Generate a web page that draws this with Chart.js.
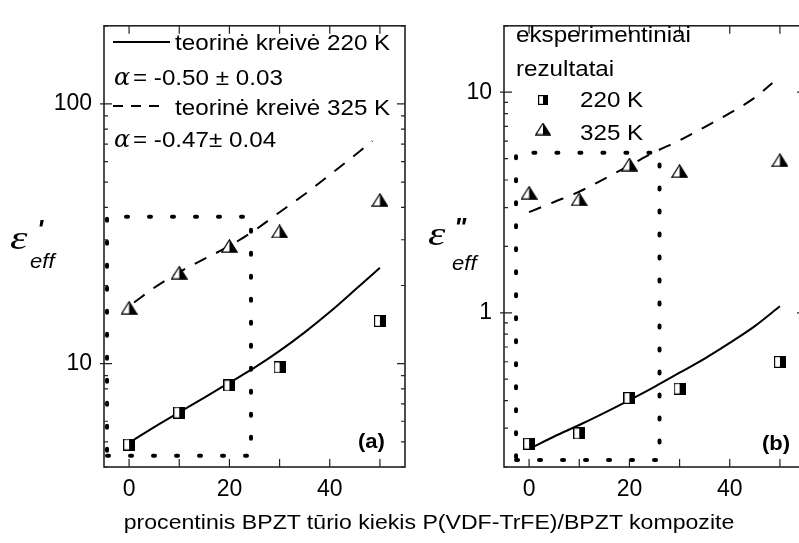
<!DOCTYPE html>
<html>
<head>
<meta charset="utf-8">
<script src="https://cdn.jsdelivr.net/npm/chart.js@4"></script>
<style>
  html, body { margin: 0; padding: 0; background: #fff; }
  #wrap { position: relative; width: 799px; height: 543px; overflow: hidden; }
  canvas { position: absolute; top: 0; }
  #xt { position: absolute; left: 0; width: 858px; top: 511px; text-align: center;
        font: 21px "Liberation Sans", Arial, sans-serif; line-height: 21px; color: #000;
        transform: scaleX(1.1); transform-origin: 429px 0; white-space: nowrap; }
</style>
</head>
<body>
<div id="wrap">
  <canvas id="chartA" width="420" height="543" style="left:0"></canvas>
  <canvas id="chartB" width="420" height="543" style="left:400px"></canvas>
  <div id="xt">procentinis BPZT tūrio kiekis P(VDF-TrFE)/BPZT kompozite</div>
</div>
<script>
// measured points (x = BPZT %)
const xExp = [0, 10, 20, 30, 50];
const a220 = [4.88, 6.48, 8.24, 9.68, 14.6];
const a325 = [16.4, 22.4, 28.4, 32.3, 42.7];
const b220 = [0.255, 0.284, 0.411, 0.453, 0.599];
const b325 = [3.50, 3.27, 4.70, 4.39, 4.92];

// theoretical curves
const xFitA220 = [1, 5, 10, 15, 20, 25, 30, 35, 40, 45, 50];
const fitA220 = [5.1, 5.7, 6.5, 7.4, 8.45, 9.65, 11.2, 13.2, 15.8, 19.2, 23.4];
const xFitA325 = [1, 5, 10, 15, 20, 25, 30, 35, 40, 45, 48.5];
const fitA325 = [17.2, 19.6, 22.5, 25.3, 28.4, 32.6, 38.3, 44.9, 53.3, 63.5, 72];
const xFitB220 = [1, 5, 10, 15, 20, 25, 30, 35, 40, 45, 50];
const fitB220 = [0.248, 0.275, 0.31, 0.352, 0.402, 0.462, 0.535, 0.62, 0.73, 0.87, 1.07];
const xFitB325 = [0, 5, 10, 15, 20, 25, 30, 35, 40, 45, 48.5];
const fitB325 = [2.86, 3.18, 3.54, 4.05, 4.65, 5.35, 6.05, 6.95, 8.03, 9.45, 11.0];

// dotted boxes
const boxAx = [-4.4, 24.3, 24.3, -4.4, -4.4];
const boxAy = [4.42, 4.42, 36.8, 36.8, 4.42];
const boxBx = [-2.6, 26, 26, -2.6, -2.6];
const boxBy = [0.215, 0.215, 5.32, 5.32, 0.215];

// axes
const xTicks = [0, 10, 20, 30, 40, 50];
const xLabels = [0, 20, 40];
const yTicksA = [4, 5, 6, 7, 8, 9, 10, 20, 30, 40, 50, 60, 70, 80, 90, 100, 200];
const yLabelsA = [10, 100];
const yTicksB = [0.2, 0.3, 0.4, 0.5, 0.6, 0.7, 0.8, 0.9, 1, 2, 3, 4, 5, 6, 7, 8, 9, 10, 20];
const yLabelsB = [1, 10];

const FONT = '"Liberation Sans", Arial, sans-serif';

function pts(xs, ys) { return xs.map((x, i) => ({ x: x, y: ys[i] })); }
function isDecade(v) { const l = Math.log10(v); return Math.abs(l - Math.round(l)) < 1e-9; }

function halfSquare(s) {
    const c = document.createElement('canvas');
    c.width = s; c.height = s;
    const g = c.getContext('2d');
    g.fillStyle = '#fff'; g.fillRect(0, 0, s, s);
    g.fillStyle = '#000'; g.fillRect(s / 2, 0, s / 2, s);
    g.strokeStyle = '#000'; g.lineWidth = 1.2;
    g.strokeRect(0.6, 0.6, s - 1.2, s - 1.2);
    return c;
}

function halfTriangle(w, h) {
    const c = document.createElement('canvas');
    c.width = w; c.height = h;
    const g = c.getContext('2d');
    g.beginPath(); g.moveTo(w / 2, 0.8); g.lineTo(w - 0.8, h - 0.8); g.lineTo(0.8, h - 0.8); g.closePath();
    g.fillStyle = '#fff'; g.fill();
    g.beginPath(); g.moveTo(w / 2, 0.8); g.lineTo(w - 0.8, h - 0.8); g.lineTo(w / 2, h - 0.8); g.closePath();
    g.fillStyle = '#000'; g.fill();
    g.beginPath(); g.moveTo(w / 2, 0.8); g.lineTo(w - 0.8, h - 0.8); g.lineTo(0.8, h - 0.8); g.closePath();
    g.strokeStyle = '#000'; g.lineWidth = 1.2; g.stroke();
    return c;
}

const sqBig = halfSquare(12), triBig = halfTriangle(17, 14);
const sqSmall = halfSquare(10), triSmall = halfTriangle(16, 13);

function txt(ctx, s, x, y, font, sx) {
    ctx.save();
    ctx.font = font; ctx.fillStyle = '#000'; ctx.textBaseline = 'alphabetic'; ctx.textAlign = 'left';
    ctx.translate(x, y); ctx.scale(sx || 1.1, 1);
    ctx.fillText(s, 0, 0);
    ctx.restore();
}

// frame with inward ticks on all four sides
const framePlugin = {
    id: 'frame',
    afterDraw(chart) {
        const { ctx, chartArea: a, scales: { x, y } } = chart;
        ctx.save();
        ctx.strokeStyle = '#222';
        ctx.lineWidth = 1.6;
        ctx.strokeRect(a.left, a.top, a.right - a.left, a.bottom - a.top);
        ctx.lineWidth = 1.2;
        ctx.beginPath();
        x.ticks.forEach(t => {
            const px = x.getPixelForValue(t.value);
            ctx.moveTo(px, a.bottom); ctx.lineTo(px, a.bottom - 8);
            ctx.moveTo(px, a.top); ctx.lineTo(px, a.top + 8);
        });
        y.ticks.forEach(t => {
            const py = y.getPixelForValue(t.value);
            const major = isDecade(t.value);
            const len = major ? 8 : 4;
            ctx.moveTo(a.left - (major ? 4 : 0), py); ctx.lineTo(a.left + len, py);
            ctx.moveTo(a.right, py); ctx.lineTo(a.right - len, py);
        });
        ctx.stroke();
        ctx.restore();
    }
};

function lineSet(data, dash) {
    return { data: data, showLine: true, borderColor: '#000', borderWidth: 2, borderDash: dash || [],
             pointRadius: 0, cubicInterpolationMode: 'monotone', fill: false };
}

function boxSet(data) {
    return { data: data, showLine: true, borderColor: '#000', borderWidth: 4, borderDash: [2, 21],
             borderCapStyle: 'round', pointRadius: 0, tension: 0, fill: false };
}

function makeChart(id, yMin, yMax, yTicks, yLabels, datasets, deco) {
    return new Chart(document.getElementById(id), {
        type: 'scatter',
        data: { datasets: datasets },
        options: {
            responsive: false,
            animation: false,
            events: [],
            layout: { padding: { left: 0, top: 13, right: 15, bottom: 0 } },
            plugins: { legend: { display: false }, tooltip: { enabled: false } },
            scales: {
                x: {
                    type: 'linear', min: -5, max: 55,
                    afterBuildTicks: s => { s.ticks = xTicks.map(v => ({ value: v })); },
                    afterFit: s => { s.height = 76; },
                    grid: { display: false, drawTicks: false }, border: { display: false },
                    ticks: { autoSkip: false, maxRotation: 0, padding: 9, color: '#000',
                             font: { size: 23, family: FONT },
                             callback: v => xLabels.includes(v) ? String(v) : '' }
                },
                y: {
                    type: 'logarithmic', min: yMin, max: yMax,
                    afterBuildTicks: s => { s.ticks = yTicks.map(v => ({ value: v })); },
                    afterFit: s => { s.width = 104; },
                    grid: { display: false, drawTicks: false }, border: { display: false },
                    ticks: { autoSkip: false, padding: 12, color: '#000',
                             font: { size: 23, family: FONT },
                             callback: v => yLabels.includes(v) ? String(v) : '' }
                }
            }
        },
        plugins: [framePlugin, { id: 'deco', afterDraw: chart => deco(chart.ctx) }]
    });
}

// (a) real part
makeChart('chartA', 4, 200, yTicksA, yLabelsA, [
    { data: pts(xExp, a220), pointStyle: sqBig, pointRadius: 6 },
    { data: pts(xExp, a325), pointStyle: triBig, pointRadius: 7 },
    lineSet(pts(xFitA220, fitA220)),
    lineSet(pts(xFitA325, fitA325), [13, 11]),
    boxSet(pts(boxAx, boxAy))
], ctx => {
    const f = '22px ' + FONT;
    ctx.save();
    ctx.strokeStyle = '#000'; ctx.lineWidth = 2;
    ctx.beginPath(); ctx.moveTo(113, 42); ctx.lineTo(170, 42); ctx.stroke();
    ctx.setLineDash([10, 8]);
    ctx.beginPath(); ctx.moveTo(113, 106); ctx.lineTo(167, 106); ctx.stroke();
    ctx.restore();
    txt(ctx, 'teorinė kreivė 220 K', 175, 50, f);
    txt(ctx, 'α', 114, 85, 'italic 24px "DejaVu Serif", serif', 1);
    txt(ctx, '= -0.50 ± 0.03', 133, 85, f);
    txt(ctx, 'teorinė kreivė 325 K', 175, 115, f);
    txt(ctx, 'α', 114, 147, 'italic 24px "DejaVu Serif", serif', 1);
    txt(ctx, '= -0.47± 0.04', 133, 147, f);
    txt(ctx, '(a)', 358, 448, 'bold 20px ' + FONT);
    // y title
    txt(ctx, 'ε', 10, 249, 'italic 34px "Liberation Serif", serif', 1.3);
    txt(ctx, '\'', 37, 238, 'bold italic 26px ' + FONT, 1);
    txt(ctx, 'eff', 30, 268, 'italic 21px ' + FONT, 1.05);
});

// (b) imaginary part
makeChart('chartB', 0.2, 20, yTicksB, yLabelsB, [
    { data: pts(xExp, b220), pointStyle: sqBig, pointRadius: 6 },
    { data: pts(xExp, b325), pointStyle: triBig, pointRadius: 7 },
    lineSet(pts(xFitB220, fitB220)),
    lineSet(pts(xFitB325, fitB325), [13, 11]),
    boxSet(pts(boxBx, boxBy))
], ctx => {
    const f = '22px ' + FONT;
    txt(ctx, 'eksperimentiniai', 116, 42, f);
    txt(ctx, 'rezultatai', 116, 76, f);
    ctx.drawImage(sqSmall, 143 - 5, 100 - 5);
    txt(ctx, '220 K', 180, 107, f);
    ctx.drawImage(triSmall, 143 - 8, 129 - 6.5);
    txt(ctx, '325 K', 180, 140, f);
    txt(ctx, '(b)', 362, 450, 'bold 20px ' + FONT);
    // y title
    txt(ctx, 'ε', 28, 245, 'italic 34px "Liberation Serif", serif', 1.3);
    txt(ctx, '"', 54, 236, 'bold italic 26px ' + FONT, 1);
    txt(ctx, 'eff', 52, 270, 'italic 21px ' + FONT, 1.05);
});
</script>
</body>
</html>
